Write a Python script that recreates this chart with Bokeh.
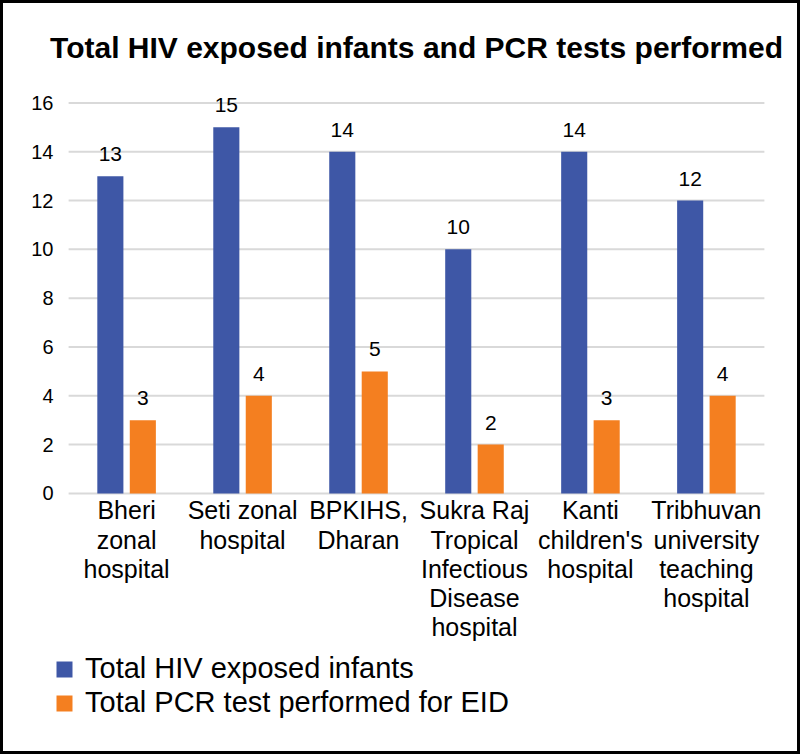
from bokeh.plotting import figure
from bokeh.models import FactorRange, Range1d, FixedTicker, Legend, LegendItem, ColumnDataSource
from bokeh.transform import dodge
from bokeh.core.properties import value
from bokeh.embed import file_html
from bokeh.resources import INLINE

categories = ["Bheri\nzonal\nhospital", "Seti zonal\nhospital", "BPKIHS,\nDharan",
              "Sukra Raj\nTropical\nInfectious\nDisease\nhospital",
              "Kanti\nchildren's\nhospital", "Tribhuvan\nuniversity\nteaching\nhospital"]
exposed = [13, 15, 14, 10, 14, 12]
pcr = [3, 4, 5, 2, 3, 4]
y_ticks = [0, 2, 4, 6, 8, 10, 12, 14, 16]
series_names = ["Total HIV exposed infants", "Total PCR test performed for EID"]

BLUE = "#3E57A6"
ORANGE = "#F47F20"
GRID = "#D9D9D9"
FONT = "Liberation Sans"

src = ColumnDataSource(dict(cat=categories, exposed=exposed, pcr=pcr,
                            base=[0] * len(categories),
                            exposed_txt=[str(v) for v in exposed],
                            pcr_txt=[str(v) for v in pcr]))
grid_src = ColumnDataSource(dict(y=y_ticks,
                                 first=[categories[0]] * len(y_ticks),
                                 last=[categories[-1]] * len(y_ticks)))

# frame is padded slightly left/right and extends below zero, so the
# category labels and the legend are drawn inside it
xr = FactorRange(*categories, range_padding=0.1217, range_padding_units="absolute")
p = figure(width=800, height=754, x_range=xr, y_range=Range1d(-10, 17),
           output_backend="svg", toolbar_location=None,
           min_border_left=51, min_border_right=25, min_border_top=75, min_border_bottom=20)
p.styles = {"border": "3px solid black"}

p.title.text = "Total HIV exposed infants and PCR tests performed"
p.title.align = "center"
p.title.text_font = FONT
p.title.text_font_style = "bold"
p.title.text_font_size = "30px"
p.title.text_color = "black"
p.title.standoff = 30
p.title.offset = 3

p.outline_line_color = None
p.xgrid.grid_line_color = None
p.ygrid.grid_line_color = None

p.yaxis.ticker = FixedTicker(ticks=y_ticks)
p.yaxis.axis_line_color = None
p.yaxis.major_tick_line_color = None
p.yaxis.major_tick_out = 0
p.yaxis.major_tick_in = 0
p.yaxis.minor_tick_line_color = None
p.yaxis.major_label_standoff = 1
p.yaxis.major_label_text_font = FONT
p.yaxis.major_label_text_font_size = "20px"
p.yaxis.major_label_text_color = "black"

p.xaxis.visible = False

# horizontal gridlines spanning the category area
p.segment(x0=dodge("first", -0.5, range=xr), x1=dodge("last", 0.5, range=xr),
          y0="y", y1="y", source=grid_src, line_color=GRID, line_width=2)

W = 0.225
r1 = p.quad(left=dodge("cat", -0.14 - W / 2, range=xr),
            right=dodge("cat", -0.14 + W / 2, range=xr),
            bottom="base", top="exposed", source=src, fill_color=BLUE, line_color=None)
r2 = p.quad(left=dodge("cat", 0.14 - W / 2, range=xr),
            right=dodge("cat", 0.14 + W / 2, range=xr),
            bottom="base", top="pcr", source=src, fill_color=ORANGE, line_color=None)

p.text(x=dodge("cat", -0.14, range=xr), y="exposed", text="exposed_txt", source=src,
       text_align="center", text_baseline="bottom", y_offset=-15,
       text_font=value(FONT), text_font_size="21px", text_color="black")
p.text(x=dodge("cat", 0.14, range=xr), y="pcr", text="pcr_txt", source=src,
       text_align="center", text_baseline="bottom", y_offset=-15,
       text_font=value(FONT), text_font_size="21px", text_color="black")

# category labels under the zero line
p.text(x="cat", y="base", text="cat", source=src,
       text_align="center", text_baseline="top", y_offset=3, text_line_height=1.04,
       text_font=value(FONT), text_font_size="25px", text_color="black")


def make_legend(label, renderer, loc):
    lg = Legend(items=[LegendItem(label=label, renderers=[renderer])],
                location=loc, orientation="vertical")
    lg.border_line_color = None
    lg.background_fill_alpha = 0
    lg.padding = 0
    lg.margin = 0
    lg.glyph_width = 20
    lg.glyph_height = 20
    lg.label_height = 30
    lg.spacing = 0
    lg.label_standoff = 11
    lg.label_text_font = FONT
    lg.label_text_font_size = "29px"
    lg.label_text_color = "black"
    return lg


p.add_layout(make_legend(series_names[0], r1, (0, 52)), "center")
p.add_layout(make_legend(series_names[1], r2, (0, 18)), "center")

open("out.html", "w").write(file_html(p, INLINE))
